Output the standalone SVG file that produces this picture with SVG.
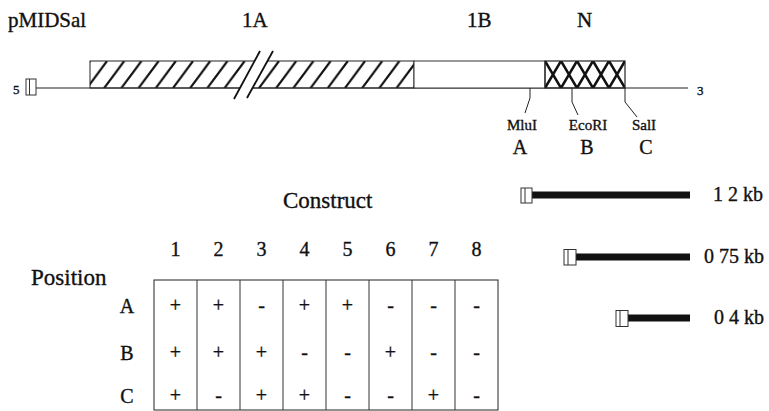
<svg xmlns="http://www.w3.org/2000/svg" width="769" height="411" viewBox="0 0 769 411">
<style>
text{font-family:"Liberation Serif","Times New Roman",serif;fill:#111;stroke:#111;stroke-width:0.35}
.t21{font-size:21px}
.t23{font-size:23px}
.t20{font-size:20px}
.t19{font-size:19px}
.t15{font-size:15px}
.t13{font-size:13px}
.pm{font-size:20px;text-anchor:middle;stroke-width:0.6}
.mid{text-anchor:middle}
.thin{fill:none;stroke:#222;stroke-width:1}
.box{fill:#fff;stroke:#333;stroke-width:1}
.bar{stroke:#111;stroke-width:7;fill:none}
</style>
<defs>
<pattern id="hatch" patternUnits="userSpaceOnUse" x="87" y="61" width="17.2" height="27">
<path d="M0 27L20 0M-17.2 27L2.8 0M17.2 27L37.2 0" stroke="#111" stroke-width="2.2" fill="none"/>
</pattern>
<pattern id="cross" patternUnits="userSpaceOnUse" x="545" y="61" width="16" height="27">
<path d="M0 27L16 0M0 0L16 27" stroke="#111" stroke-width="2.6" fill="none"/>
</pattern>
</defs>

<g id="labels">
<text class="t21" x="8" y="27">pMIDSal</text>
<text class="t21" x="242" y="27">1A</text>
<text class="t21" x="467" y="27">1B</text>
<text class="t21" x="577" y="27">N</text>
<text class="t13" x="13" y="94">5</text>
<text class="t13" x="697" y="95">3</text>
</g>

<g id="map">
<line x1="36" y1="88" x2="688" y2="88" stroke="#222" stroke-width="1.2"/>
<rect id="region-1A" x="90" y="61" width="324" height="27" fill="url(#hatch)" stroke="#222" stroke-width="1"/>
<rect id="region-1B" x="414" y="61" width="131" height="27" class="box"/>
<rect id="region-N" x="545" y="61" width="80" height="27" fill="url(#cross)" stroke="#222" stroke-width="1.2"/>
<g id="break">
<polygon points="260,51 273,51 247,98 234,98" fill="#fff"/>
<line x1="260" y1="51" x2="234" y2="99" stroke="#111" stroke-width="1.8"/>
<line x1="273" y1="51" x2="247" y2="98" stroke="#111" stroke-width="1.8"/>
</g>
<g id="promoter5">
<rect x="26" y="79" width="10" height="16" class="box"/>
<line x1="29.5" y1="79" x2="29.5" y2="95" stroke="#333" stroke-width="1"/>
</g>
</g>

<g id="connectors">
<path class="thin" d="M530 88V98L525 113"/>
<path class="thin" d="M572 88V102L578 115"/>
<path class="thin" d="M625 88V102L637 117"/>
</g>

<g id="sites">
<text class="t15 mid" x="522" y="130">MluI</text>
<text class="t15 mid" x="588" y="130">EcoRI</text>
<text class="t15 mid" x="644" y="130">SalI</text>
<text class="t20 mid" x="520" y="154">A</text>
<text class="t20 mid" x="587" y="154">B</text>
<text class="t20 mid" x="646" y="154">C</text>
</g>

<g id="construct-1">
<line class="bar" x1="532" y1="195" x2="690" y2="195"/>
<rect x="521" y="188" width="11" height="15" class="box"/>
<line x1="525" y1="188" x2="525" y2="203" stroke="#333"/>
<text class="t20" x="713" y="201">1 2 kb</text>
</g>
<g id="construct-2">
<line class="bar" x1="576" y1="257" x2="690" y2="257"/>
<rect x="564" y="249.5" width="12" height="15.5" class="box"/>
<line x1="568" y1="249.5" x2="568" y2="265" stroke="#333"/>
<text class="t20" x="704" y="263">0 75 kb</text>
</g>
<g id="construct-3">
<line class="bar" x1="628" y1="318" x2="690" y2="318"/>
<rect x="616" y="310.5" width="12" height="16" class="box"/>
<line x1="620" y1="310.5" x2="620" y2="326.5" stroke="#333"/>
<text class="t20" x="714" y="324">0 4 kb</text>
</g>

<g id="table">
<text class="t23" x="283" y="208">Construct</text>
<text class="t23" x="31" y="285">Position</text>
<g class="t20 mid">
<text x="175.5" y="256">1</text><text x="218.5" y="256">2</text><text x="261.5" y="256">3</text><text x="304.5" y="256">4</text>
<text x="347.5" y="256">5</text><text x="390.5" y="256">6</text><text x="433.5" y="256">7</text><text x="476.5" y="256">8</text>
</g>
<g class="t20 mid">
<text x="127" y="313">A</text><text x="127" y="360">B</text><text x="127" y="403">C</text>
</g>
<rect x="154" y="280" width="344" height="130" fill="none" stroke="#222" stroke-width="1"/>
<path d="M197 280V410M240 280V410M283 280V410M326 280V410M369 280V410M412 280V410M455 280V410" stroke="#333" stroke-width="1" fill="none"/>
<g class="pm">
<text x="175.5" y="312">+</text><text x="218.5" y="312">+</text><text x="261.5" y="312">-</text><text x="304.5" y="312">+</text>
<text x="347.5" y="312">+</text><text x="390.5" y="312">-</text><text x="433.5" y="312">-</text><text x="476.5" y="312">-</text>
<text x="175.5" y="359">+</text><text x="218.5" y="359">+</text><text x="261.5" y="359">+</text><text x="304.5" y="359">-</text>
<text x="347.5" y="359">-</text><text x="390.5" y="359">+</text><text x="433.5" y="359">-</text><text x="476.5" y="359">-</text>
<text x="175.5" y="402">+</text><text x="218.5" y="402">-</text><text x="261.5" y="402">+</text><text x="304.5" y="402">+</text>
<text x="347.5" y="402">-</text><text x="390.5" y="402">-</text><text x="433.5" y="402">+</text><text x="476.5" y="402">-</text>
</g>
</g>
</svg>
